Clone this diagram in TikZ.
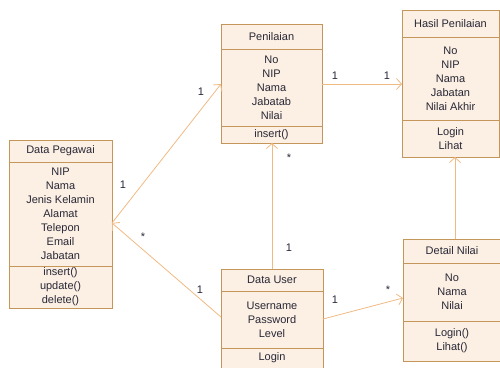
\documentclass[tikz,border=0pt]{standalone}
\usepackage{fontspec}
\setmainfont{Liberation Sans}
\usetikzlibrary{arrows.meta}
\definecolor{boxf}{RGB}{252,239,227}
\definecolor{boxc}{RGB}{196,150,90}
\definecolor{linec}{RGB}{240,186,132}
\definecolor{labc}{RGB}{40,40,55}
\tikzset{
  cls/.style={draw=boxc, fill=boxf, line width=0.8pt, inner sep=0pt},
  sep/.style={draw=boxc, line width=0.8pt},
  txt/.style={font=\fontsize{11}{14}\selectfont, align=center, inner sep=0pt, text=labc},
  conn/.style={draw=linec, line width=0.8pt, -{Straight Barb[length=5pt,width=11pt]}},
  mult/.style={font=\fontsize{11}{12}\selectfont, inner sep=0pt, text=labc}
}
\begin{document}
\begin{tikzpicture}[x=1pt,y=-1pt]
\useasboundingbox (0,0) rectangle (500,367);
\clip (0,0) rectangle (500,367);
% Data Pegawai
\node[cls, minimum width=103pt, minimum height=168pt] (peg) at (60.5,224) {};
\draw[sep] (9,162) -- (112,162) (9,266) -- (112,266);
\node[txt] (pegT) at (60.5,151) {Data Pegawai};
\node[txt] (pegA) at (60.5,214) {NIP\\Nama\\Jenis Kelamin\\Alamat\\Telepon\\Email\\Jabatan};
\node[txt] (pegO) at (60.5,287) {insert()\\update()\\delete()};
% Penilaian
\node[cls, minimum width=101pt, minimum height=119pt] (pen) at (271.5,83.5) {};
\draw[sep] (221,49) -- (322,49) (221,126) -- (322,126);
\node[txt] (penT) at (271.5,36.5) {Penilaian};
\node[txt] (penA) at (271.5,87.5) {No\\NIP\\Nama\\Jabatab\\Nilai};
\node[txt] (penO) at (271.5,134.5) {insert()};
% Hasil Penilaian
\node[cls, minimum width=97pt, minimum height=147pt] (has) at (450.5,83.5) {};
\draw[sep] (402,37) -- (499,37) (402,120) -- (499,120);
\node[txt] (hasT) at (450.5,23.5) {Hasil Penilaian};
\node[txt] (hasA) at (450.5,78.5) {No\\NIP\\Nama\\Jabatan\\Nilai Akhir};
\node[txt] (hasO) at (450.5,138.5) {Login\\Lihat};
% Data User
\node[cls, minimum width=102pt, minimum height=106pt] (usr) at (272,322) {};
\draw[sep] (221,291) -- (323,291) (221,348) -- (323,348);
\node[txt] (usrT) at (272,280) {Data User};
\node[txt] (usrA) at (272,319.5) {Username\\Password\\Level};
\node[txt] (usrO) at (272,358) {Login};
% Detail Nilai
\node[cls, minimum width=98pt, minimum height=122pt] (det) at (452,300) {};
\draw[sep] (403,263) -- (501,263) (403,321) -- (501,321);
\node[txt] (detT) at (452,251) {Detail Nilai};
\node[txt] (detA) at (452,292) {No\\Nama\\Nilai};
\node[txt] (detO) at (452,341) {Login()\\Lihat()};
% connection points
\coordinate (pegR) at (112,223);
\coordinate (penL) at (221,84);
\coordinate (penR) at (322,84);
\coordinate (penB) at (272,143);
\coordinate (hasL) at (402,84);
\coordinate (hasB) at (455,157);
\coordinate (usrL) at (221,317);
\coordinate (usrT2) at (272,269);
\coordinate (usrR) at (323,319);
\coordinate (detL) at (403,298);
\coordinate (detT2) at (455,239);
% connectors
\draw[conn] (pegR) -- (penL);
\draw[conn] (usrL) -- (pegR);
\draw[conn] (usrT2) -- (penB);
\draw[conn] (penR) -- (hasL);
\draw[conn] (usrR) -- (detL);
\draw[conn] (detT2) -- (hasB);
% multiplicities
\node[mult] (m1) at (201,92) {1};
\node[mult] (m2) at (123,185) {1};
\node[mult] (m3) at (143,237) {*};
\node[mult] (m4) at (200,290) {1};
\node[mult] (m5) at (289,158) {*};
\node[mult] (m6) at (289,248) {1};
\node[mult] (m7) at (335,76) {1};
\node[mult] (m8) at (387,76) {1};
\node[mult] (m9) at (335,300) {1};
\node[mult] (m10) at (388,290) {*};
\end{tikzpicture}
\end{document}
